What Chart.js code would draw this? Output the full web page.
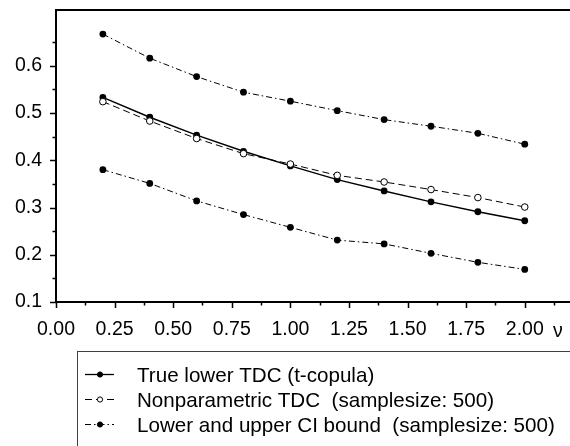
<!DOCTYPE html>
<html>
<head>
<meta charset="utf-8">
<script src="https://cdn.jsdelivr.net/npm/chart.js@4"></script>
<style>
html, body { margin: 0; padding: 0; background: #fff; }
</style>
</head>
<body>
<canvas id="tdcChart" width="570" height="446"></canvas>
<script>
// degrees of freedom parameter (x)
var nuValues = [0.2, 0.4, 0.6, 0.8, 1.0, 1.2, 1.4, 1.6, 1.8, 2.0];
// series
var trueTdc   = [0.533, 0.491, 0.453, 0.419, 0.388, 0.359, 0.335, 0.312, 0.291, 0.272];
var nonparTdc = [0.524, 0.483, 0.446, 0.414, 0.392, 0.368, 0.354, 0.338, 0.321, 0.301];
var upperCi   = [0.667, 0.616, 0.577, 0.544, 0.525, 0.505, 0.486, 0.472, 0.457, 0.434];
var lowerCi   = [0.380, 0.351, 0.314, 0.285, 0.258, 0.231, 0.223, 0.203, 0.184, 0.169];
// ticks
var xMajorTicks = [0, 0.25, 0.5, 0.75, 1.0, 1.25, 1.5, 1.75, 2.0];
var xMinorTicks = [0.125, 0.375, 0.625, 0.875, 1.125, 1.375, 1.625, 1.875, 2.125];
var yMajorTicks = [0.1, 0.2, 0.3, 0.4, 0.5, 0.6];
var yMinorTicks = [0.15, 0.25, 0.35, 0.45, 0.55, 0.65];
var xAxisName = 'ν';
var legendLabels = ['True lower TDC (t-copula)', 'Nonparametric TDC  (samplesize: 500)', 'Lower and upper CI bound  (samplesize: 500)'];

function toPoints(ys) {
    return nuValues.map(function (x, i) { return { x: x, y: ys[i] }; });
}

function buildTicks(major, minor) {
    return function (scale) {
        var list = major.map(function (v) { return { value: v, major: true }; })
            .concat(minor.map(function (v) { return { value: v, major: false }; }));
        list.sort(function (a, b) { return a.value - b.value; });
        scale.ticks = list;
    };
}

var fontName = 'Liberation Sans, Arial, sans-serif';

// tick marks, frame lines and the boxed legend
var framePlugin = {
    id: 'frame',
    afterDraw: function (chart) {
        var ctx = chart.ctx;
        var area = chart.chartArea;
        var xs = chart.scales.x, ys = chart.scales.y;
        ctx.save();
        ctx.strokeStyle = '#000';
        ctx.lineWidth = 1.5;
        ctx.beginPath();
        xs.ticks.forEach(function (t) {
            var px = Math.round(xs.getPixelForValue(t.value)) + 0.5;
            ctx.moveTo(px, area.bottom);
            ctx.lineTo(px, area.bottom + (t.major ? 6 : 3.5));
        });
        ys.ticks.forEach(function (t) {
            var py = Math.round(ys.getPixelForValue(t.value)) + 0.5;
            ctx.moveTo(area.left, py);
            ctx.lineTo(area.left - (t.major ? 6 : 3.5), py);
        });
        ctx.stroke();

        // top line and x axis carried on to the canvas edge
        ctx.lineWidth = 2;
        ctx.beginPath();
        ctx.moveTo(area.left - 1, area.top);
        ctx.lineTo(chart.width, area.top);
        ctx.moveTo(area.right - 1, area.bottom);
        ctx.lineTo(chart.width, area.bottom);
        ctx.stroke();

        // axis name at the end of the x labels
        ctx.fillStyle = '#000';
        ctx.font = '19.5px ' + fontName;
        ctx.textBaseline = 'alphabetic';
        ctx.textAlign = 'left';
        ctx.fillText(xAxisName, 553, 337);

        // legend
        ctx.strokeStyle = '#404040';
        ctx.lineWidth = 1;
        ctx.strokeRect(77.5, 351.5, 600, 200);
        var styles = [
            { dash: [], fill: '#000', width: 1.3 },
            { dash: [7, 4], fill: '#fff', width: 1 },
            { dash: [6, 3, 1.5, 3], fill: '#000', width: 1 }
        ];
        ctx.font = '20.6px ' + fontName;
        legendLabels.forEach(function (label, i) {
            var cy = 374 + i * 25;
            var st = styles[i];
            ctx.strokeStyle = '#000';
            ctx.lineWidth = st.width;
            ctx.setLineDash(st.dash);
            ctx.beginPath();
            ctx.moveTo(85, cy + 0.5);
            ctx.lineTo(114, cy + 0.5);
            ctx.stroke();
            ctx.setLineDash([]);
            ctx.beginPath();
            ctx.arc(100, cy + 0.5, 2.6, 0, Math.PI * 2);
            ctx.fillStyle = st.fill;
            ctx.fill();
            ctx.lineWidth = 1;
            ctx.stroke();
            ctx.fillStyle = '#000';
            ctx.fillText(label, 137, cy + 7.7);
        });
        ctx.restore();
    }
};

var ctxTdc = document.getElementById('tdcChart').getContext('2d');
var tdcChart = new Chart(ctxTdc, {
    type: 'line',
    data: {
        datasets: [{
            label: legendLabels[1],
            data: toPoints(nonparTdc),
            borderColor: '#000',
            borderWidth: 1,
            borderDash: [7, 4],
            pointRadius: 3.3,
            pointBackgroundColor: '#fff',
            pointBorderColor: '#000',
            pointBorderWidth: 1
        }, {
            label: legendLabels[0],
            data: toPoints(trueTdc),
            borderColor: '#000',
            borderWidth: 1.4,
            pointRadius: 3.4,
            pointBackgroundColor: '#000',
            pointBorderWidth: 0
        }, {
            label: legendLabels[2],
            data: toPoints(upperCi),
            borderColor: '#000',
            borderWidth: 1,
            borderDash: [6, 3, 1.5, 3],
            pointRadius: 3.4,
            pointBackgroundColor: '#000',
            pointBorderWidth: 0
        }, {
            label: legendLabels[2],
            data: toPoints(lowerCi),
            borderColor: '#000',
            borderWidth: 1,
            borderDash: [6, 3, 1.5, 3],
            pointRadius: 3.4,
            pointBackgroundColor: '#000',
            pointBorderWidth: 0
        }]
    },
    options: {
        responsive: false,
        animation: false,
        devicePixelRatio: 1,
        layout: { padding: { top: 10, right: 0, left: 0, bottom: 0 } },
        plugins: { legend: { display: false }, tooltip: { enabled: false } },
        elements: { line: { tension: 0 } },
        scales: {
            x: {
                type: 'linear',
                min: 0,
                max: 2.1,
                afterBuildTicks: buildTicks(xMajorTicks, xMinorTicks),
                afterFit: function (scale) {
                    scale.height = 144;
                },
                grid: { drawOnChartArea: false, drawTicks: false },
                border: { display: true, color: '#000', width: 2 },
                ticks: {
                    padding: 16,
                    color: '#000',
                    maxRotation: 0,
                    autoSkip: false,
                    font: { family: fontName, size: 19.5 },
                    callback: function (value, index, ticks) {
                        return ticks[index].major ? value.toFixed(2) : '';
                    }
                }
            },
            y: {
                type: 'linear',
                min: 0.1,
                max: 0.718,
                afterBuildTicks: buildTicks(yMajorTicks, yMinorTicks),
                afterFit: function (scale) {
                    scale.width = 56;
                    scale.paddingTop = 0;
                    scale.paddingBottom = 0;
                },
                grid: { drawOnChartArea: false, drawTicks: false },
                border: { display: true, color: '#000', width: 2 },
                ticks: {
                    padding: 14,
                    color: '#000',
                    autoSkip: false,
                    font: { family: fontName, size: 19.5 },
                    callback: function (value, index, ticks) {
                        return ticks[index].major ? value.toFixed(1) : '';
                    }
                }
            }
        }
    },
    plugins: [framePlugin]
});
</script>
</body>
</html>
